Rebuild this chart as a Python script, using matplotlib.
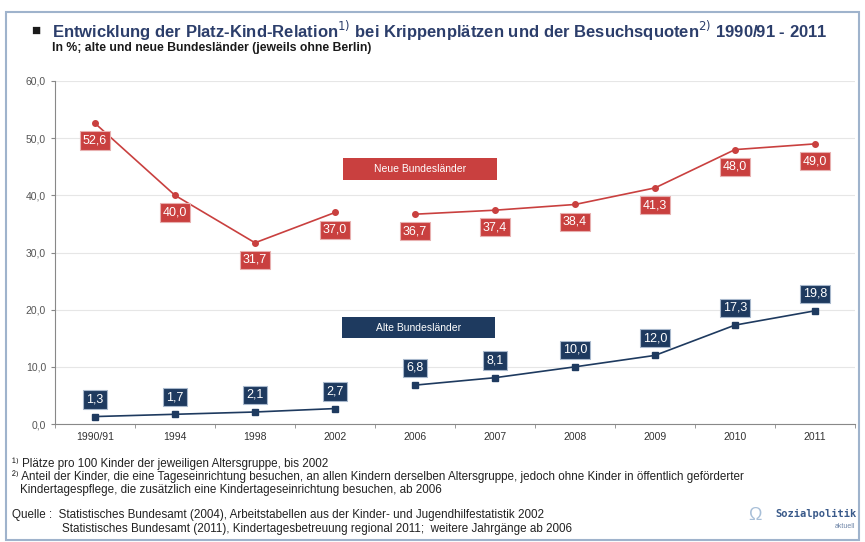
import numpy as np
import matplotlib
matplotlib.use("Agg")
import matplotlib.pyplot as plt
from matplotlib.patches import Rectangle

# data
years = ["1990/91", "1994", "1998", "2002", "2006", "2007", "2008", "2009", "2010", "2011"]
neue = [52.6, 40.0, 31.7, 37.0, 36.7, 37.4, 38.4, 41.3, 48.0, 49.0]
alte = [1.3, 1.7, 2.1, 2.7, 6.8, 8.1, 10.0, 12.0, 17.3, 19.8]
yticks = [0, 10, 20, 30, 40, 50, 60]

RED = "#c9403f"
NAVY = "#1e3a5f"

plt.rcParams['font.family'] = ['Liberation Sans', 'DejaVu Sans']

fig = plt.figure(figsize=(8.65, 5.42), dpi=100)
fig.patch.set_facecolor("white")

# outer frame
fig.patches.append(Rectangle((6 / 865, 2 / 542), 853 / 865, 528 / 542,
                             transform=fig.transFigure, fill=False,
                             edgecolor="#9fb3cc", linewidth=1.5))

ax = fig.add_axes([55 / 865, 1 - 424 / 542, 800 / 865, 343 / 542])
x = np.arange(len(years))

# lines broken between 2002 and 2006
for seg in (slice(0, 4), slice(4, 10)):
    ax.plot(x[seg], neue[seg], color=RED, lw=1.2, marker="o", ms=4, zorder=3)
    ax.plot(x[seg], alte[seg], color=NAVY, lw=1.2, marker="s", ms=5, zorder=3)


def fmt(v):
    return f"{v:.1f}".replace(".", ",")


for xi, v in zip(x, neue):
    ax.text(xi, v - 3.0, fmt(v), ha="center", va="center",
            color="white", fontsize=9,
            bbox=dict(boxstyle="square,pad=0.25", fc=RED, ec="#e8b0b0", lw=0.8), zorder=4)
for xi, v in zip(x, alte):
    ax.text(xi, v + 3.0, fmt(v), ha="center", va="center",
            color="white", fontsize=9,
            bbox=dict(boxstyle="square,pad=0.25", fc=NAVY, ec="#a8b8cc", lw=0.8), zorder=4)

# series labels
ax.add_patch(Rectangle((3.1, 42.7), 1.925, 3.8, fc=RED, ec="none", zorder=4))
ax.text(4.06, 44.6, "Neue Bundesländer", ha="center", va="center", color="white",
        fontsize=7.5, zorder=5)
ax.add_patch(Rectangle((3.09, 15.0), 1.91, 3.7, fc=NAVY, ec="none", zorder=4))
ax.text(4.045, 16.85, "Alte Bundesländer", ha="center", va="center", color="white",
        fontsize=7.5, zorder=5)

ax.set_xlim(-0.5, len(years) - 0.5)
ax.set_ylim(0, 60)
ax.set_yticks(yticks)
ax.set_yticklabels([fmt(v) for v in yticks], fontsize=7.5, color="#555555")
ax.set_xticks(x)
ax.set_xticklabels(years, fontsize=7.5, color="#333333")
ax.set_xticks(np.arange(-0.5, len(years), 1), minor=True)
ax.tick_params(axis="x", which="major", length=0, pad=6)
ax.tick_params(axis="x", which="minor", length=3, color="#888888")
ax.tick_params(axis="y", length=3, color="#888888")
ax.grid(axis="y", color="#e6e6e6", lw=0.8)
ax.set_axisbelow(True)
for s in ("top", "right"):
    ax.spines[s].set_visible(False)
for s in ("left", "bottom"):
    ax.spines[s].set_color("#888888")

# titles
fig.text(31 / 865, 1 - 31 / 542, "■", fontsize=11, color="#1a1a1a", va="center")
fig.text(52 / 865, 1 - 31 / 542,
         r"Entwicklung der Platz-Kind-Relation$^{1)}$ bei Krippenplätzen und der Besuchsquoten$^{2)}$ 1990/91 - 2011",
         fontsize=12, color="#2c3e6b", fontweight="bold", va="center")
fig.text(52 / 865, 1 - 48 / 542,
         "In %; alte und neue Bundesländer (jeweils ohne Berlin)",
         fontsize=8.8, color="#1a1a1a", fontweight="bold", va="center")

# footnotes
fs = 8.4
fig.text(12 / 865, 1 - 464 / 542, "¹⁾ Plätze pro 100 Kinder der jeweiligen Altersgruppe, bis 2002",
         fontsize=fs, color="#222222", va="center")
fig.text(12 / 865, 1 - 477 / 542,
         "²⁾ Anteil der Kinder, die eine Tageseinrichtung besuchen, an allen Kindern derselben Altersgruppe, jedoch ohne Kinder in öffentlich geförderter",
         fontsize=fs, color="#222222", va="center")
fig.text(20 / 865, 1 - 490 / 542,
         "Kindertagespflege, die zusätzlich eine Kindertageseinrichtung besuchen, ab 2006",
         fontsize=fs, color="#222222", va="center")
fig.text(12 / 865, 1 - 515 / 542,
         "Quelle :  Statistisches Bundesamt (2004), Arbeitstabellen aus der Kinder- und Jugendhilfestatistik 2002",
         fontsize=fs, color="#222222", va="center")
fig.text(62 / 865, 1 - 529 / 542,
         "Statistisches Bundesamt (2011), Kindertagesbetreuung regional 2011;  weitere Jahrgänge ab 2006",
         fontsize=fs, color="#222222", va="center")

# logo
fig.text(748 / 865, 1 - 516 / 542, "Ω", fontsize=13, color="#a8bfd8", va="center")
fig.text(857 / 865, 1 - 514 / 542, "Sozialpolitik", fontsize=7.5, color="#3a5a8a",
         fontweight="bold", family="DejaVu Sans Mono", va="center", ha="right")
fig.text(855 / 865, 1 - 526 / 542, "aktuell", fontsize=5, color="#6f86a8",
         va="center", ha="right")

fig.savefig("out.png", dpi=100)
